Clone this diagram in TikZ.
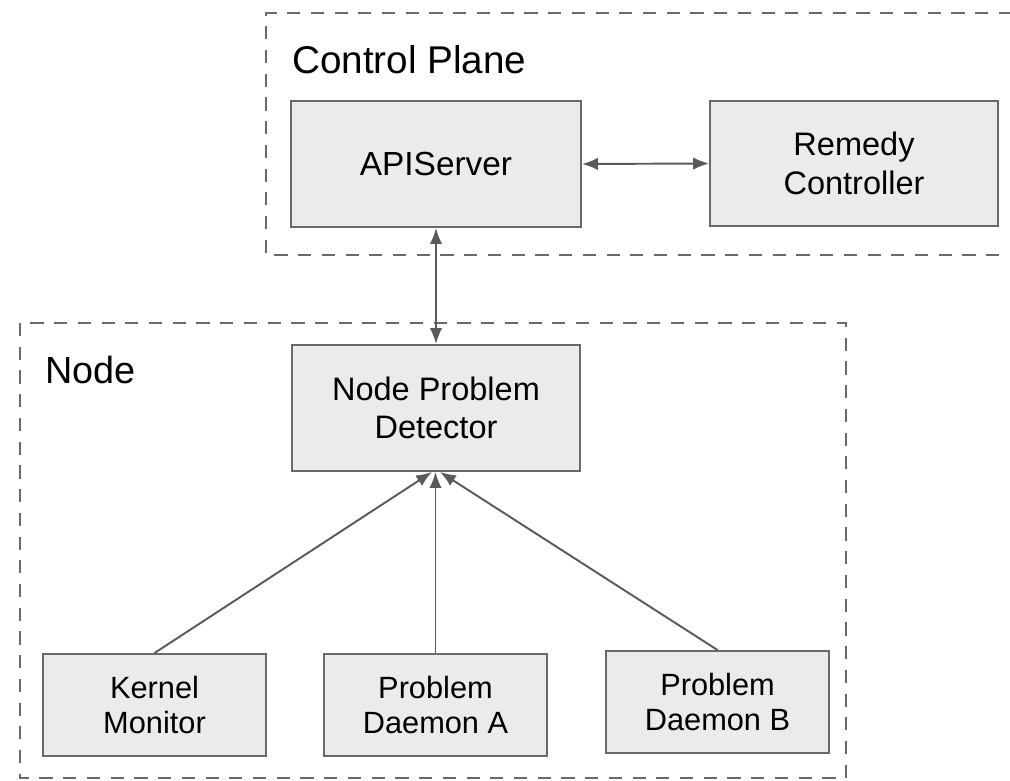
\documentclass[tikz,border=0pt]{standalone}
\usepackage{fontspec}
\setmainfont{Liberation Sans}
\usetikzlibrary{arrows.meta}
\definecolor{boxfill}{RGB}{235,235,235}
\definecolor{boxline}{RGB}{105,105,105}
\definecolor{arrowgray}{RGB}{90,90,90}
\tikzset{
  comp/.style={draw=boxline, fill=boxfill, line width=1.1pt, align=center,
    inner sep=0pt},
  group/.style={draw=boxline, line width=1.1pt, dash pattern=on 7.5pt off 6pt},
  conn/.style={draw=arrowgray, line width=1.1pt, -{Latex[length=9pt,width=7pt]}},
  biconn/.style={conn, {Latex[length=9pt,width=7pt]}-{Latex[length=9pt,width=7pt]}},
  upperfont/.style={font=\fontsize{18.5}{22}\selectfont},
  lowerfont/.style={font=\fontsize{17.5}{20}\selectfont},
}
\begin{document}
\begin{tikzpicture}[x=0.2mm, y=-0.2mm]
	\useasboundingbox (0,0) rectangle (1010,781);
	% groups
	\draw[group] (1012,13) -- (266,13) -- (266,255) -- (1012,255);
	\draw[group] (20,323) rectangle (846,778);
	\node[anchor=west, font=\fontsize{22}{26}\selectfont] (cplabel) at (286,60) {Control Plane};
	\node[anchor=base west, inner sep=0pt, font=\fontsize{21.5}{26}\selectfont] (nodelabel) at (45,384) {Node};
	% control plane
	\node[comp, font=\fontsize{19}{22}\selectfont, minimum width=5.8cm, minimum height=2.52cm] (api) at (436,164) {APIServer};
	\node[comp, upperfont, minimum width=5.76cm, minimum height=2.5cm] (remedy) at (854,163.5) {Remedy\\Controller};
	% node
	\node[comp, upperfont, minimum width=5.76cm, minimum height=2.52cm] (npd) at (436,408) {Node Problem\\Detector};
	\node[comp, lowerfont, minimum width=4.46cm, minimum height=2.04cm] (kernel) at (154.5,705) {Kernel\\Monitor};
	\node[comp, lowerfont, minimum width=4.46cm, minimum height=2.04cm] (pda) at (435.5,705) {Problem\\Daemon A};
	\node[comp, lowerfont, minimum width=4.46cm, minimum height=2.04cm] (pdb) at (717.5,702) {Problem\\Daemon B};
	% connectors
	\draw[biconn] (api.east) -- (remedy.west);
	\draw[biconn] (api.south) -- (npd.north);
	\draw[conn] (kernel.north) -- ([xshift=-0.8mm]npd.south);
	\draw[conn] (pda.north) -- (pda.north |- npd.south);
	\draw[conn] (pdb.north) -- ([xshift=0.8mm]npd.south);
\end{tikzpicture}
\end{document}
